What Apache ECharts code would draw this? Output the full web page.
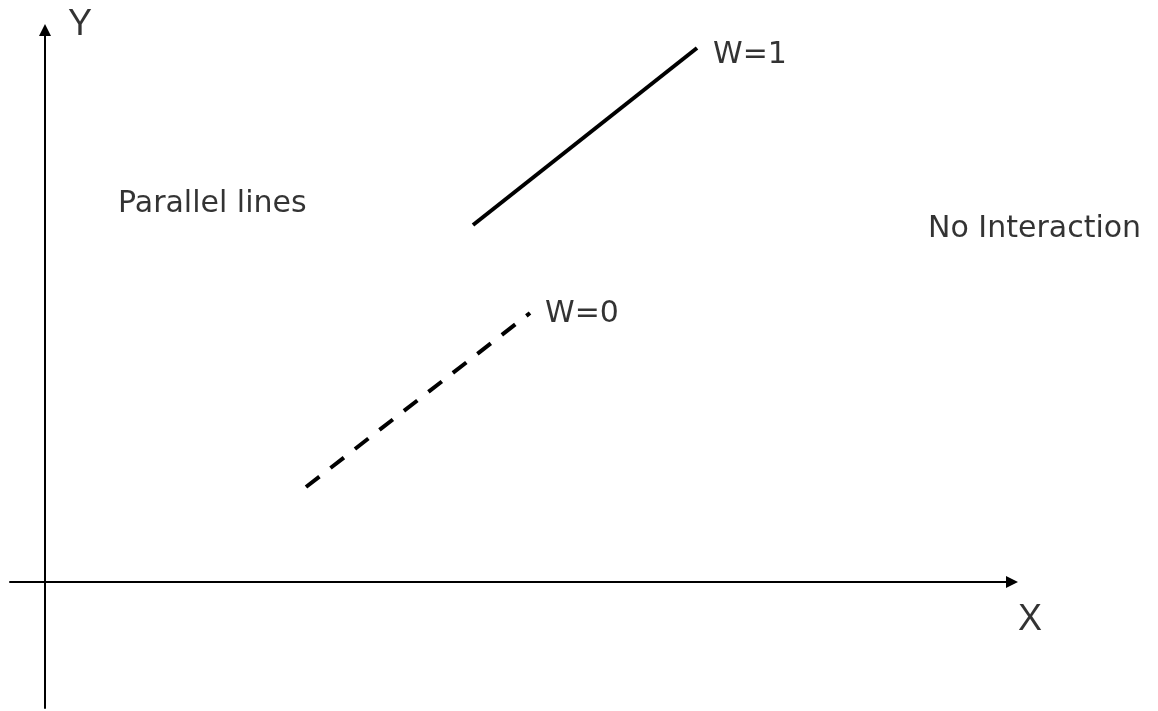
<!DOCTYPE html>
<html>
<head>
<meta charset="utf-8">
<script src="https://cdn.jsdelivr.net/npm/echarts@6/dist/echarts.min.js"></script>
<style>
  html, body { margin: 0; padding: 0; background: #fff; }
  #chart { width: 1158px; height: 711px; }
</style>
</head>
<body>
<div id="chart"></div>
<script>
// line endpoints, in axis units (origin where the axes cross)
const solidX = [4.28, 6.52];   // W=1
const solidY = [3.57, 5.34];
const dashX = [2.61, 4.85];    // W=0
const dashY = [0.95, 2.69];

// text notes anchored in axis units (left edge, middle)
const noteText = ['Parallel lines', 'No Interaction', 'W=1', 'W=0'];
const noteX = [0.73, 8.83, 6.68, 5.00];
const noteY = [3.78, 3.53, 5.27, 2.68];

// axis letters
const axisText = ['Y', 'X'];
const axisTextX = [0.23, 9.73];
const axisTextY = [5.57, -0.385];

const chart = echarts.init(document.getElementById('chart'));

const hiddenBits = {
  axisTick: { show: false },
  axisLabel: { show: false },
  splitLine: { show: false }
};

chart.setOption({
  animation: false,
  backgroundColor: '#fff',
  grid: { left: 10, right: 146, top: 30, bottom: 3, containLabel: false, outerBoundsMode: 'none' },
  xAxis: {
    type: 'value',
    min: -0.35,
    max: 9.67,
    axisLine: {
      show: true,
      onZero: true,
      symbol: ['none', 'triangle'],
      symbolSize: [12, 12],
      lineStyle: { color: '#000', width: 2 }
    },
    ...hiddenBits
  },
  yAxis: {
    type: 'value',
    min: -1.26,
    max: 5.52,
    axisLine: {
      show: true,
      onZero: true,
      symbol: ['none', 'triangle'],
      symbolSize: [12, 12],
      lineStyle: { color: '#000', width: 2 }
    },
    ...hiddenBits
  },
  series: [
    {
      type: 'line',
      symbol: 'none',
      data: solidX.map((x, i) => [x, solidY[i]]),
      lineStyle: { color: '#000', width: 4 }
    },
    {
      type: 'line',
      symbol: 'none',
      data: dashX.map((x, i) => [x, dashY[i]]),
      lineStyle: { color: '#000', width: 4, type: [17, 14] }
    },
    {
      type: 'scatter',
      symbolSize: 0,
      clip: false,
      silent: true,
      data: noteText.map((t, i) => ({ value: [noteX[i], noteY[i]], name: t })),
      label: {
        show: true,
        position: [0, 0],
        align: 'left',
        verticalAlign: 'middle',
        formatter: p => p.name,
        fontFamily: 'DejaVu Sans',
        fontSize: 30,
        color: '#000'
      }
    },
    {
      type: 'scatter',
      symbolSize: 0,
      clip: false,
      silent: true,
      data: axisText.map((t, i) => ({ value: [axisTextX[i], axisTextY[i]], name: t })),
      label: {
        show: true,
        position: [0, 0],
        align: 'left',
        verticalAlign: 'middle',
        formatter: p => p.name,
        fontFamily: 'Liberation Sans',
        fontSize: 36,
        color: '#000'
      }
    }
  ]
});
</script>
</body>
</html>
